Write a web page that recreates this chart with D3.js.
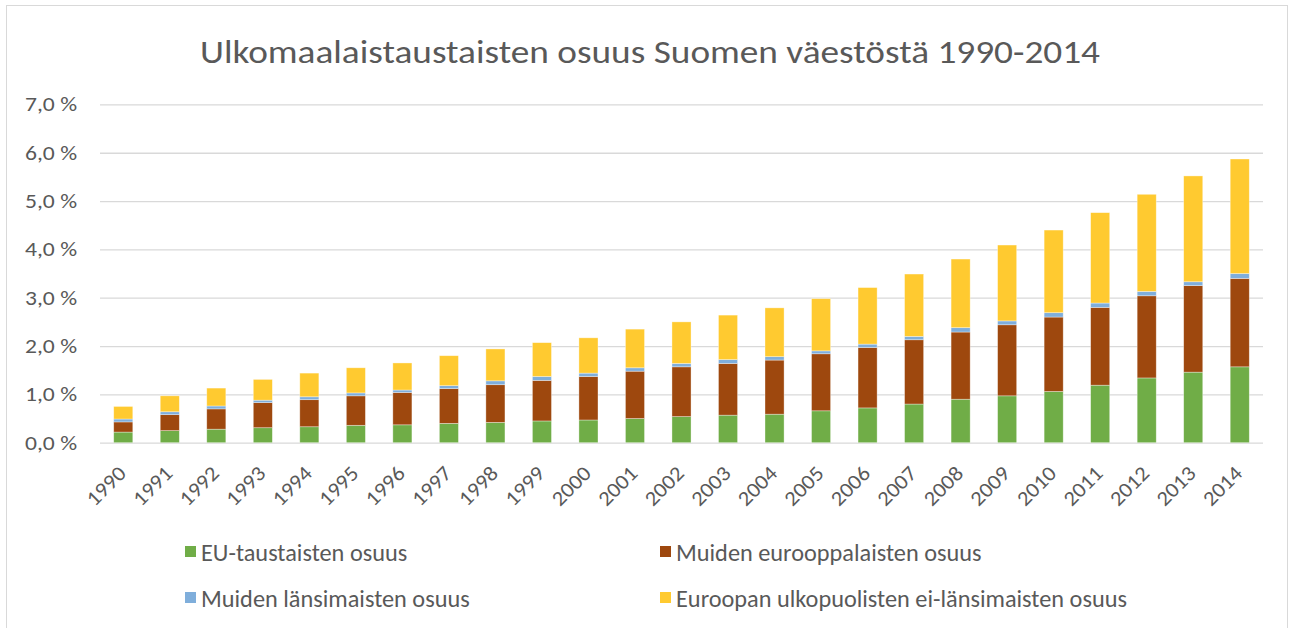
<!DOCTYPE html>
<html>
<head>
<meta charset="utf-8">
<script src="https://cdn.jsdelivr.net/npm/d3@7"></script>
<style>
  body { margin: 0; background: #fff; }
  text { font-family: Carlito, Calibri, Lato, sans-serif; fill: #595959; }
</style>
</head>
<body>
<svg id="chart"></svg>
<script>
// values in percent of population
let years = d3.range(1990, 2015).map(String);
let euShare = [0.22, 0.25, 0.28, 0.31, 0.33, 0.36, 0.37, 0.40, 0.42, 0.45, 0.47, 0.50, 0.54, 0.57, 0.59, 0.66, 0.72, 0.80, 0.90, 0.97, 1.06, 1.19, 1.34, 1.46, 1.57];
let otherEurope = [0.21, 0.33, 0.42, 0.52, 0.56, 0.61, 0.67, 0.72, 0.78, 0.84, 0.90, 0.98, 1.03, 1.07, 1.12, 1.18, 1.25, 1.33, 1.39, 1.47, 1.54, 1.61, 1.70, 1.79, 1.83];
let otherWestern = [0.06, 0.06, 0.06, 0.05, 0.06, 0.06, 0.05, 0.06, 0.08, 0.08, 0.07, 0.07, 0.07, 0.08, 0.07, 0.06, 0.07, 0.07, 0.09, 0.08, 0.09, 0.09, 0.09, 0.08, 0.10];
let nonWestern = [0.26, 0.33, 0.37, 0.43, 0.49, 0.52, 0.56, 0.62, 0.66, 0.70, 0.73, 0.80, 0.86, 0.92, 1.01, 1.08, 1.17, 1.29, 1.42, 1.57, 1.71, 1.87, 2.01, 2.19, 2.37];
let seriesNames = ["EU-taustaisten osuus", "Muiden eurooppalaisten osuus", "Muiden länsimaisten osuus", "Euroopan ulkopuolisten ei-länsimaisten osuus"];
let yTicks = [0, 1, 2, 3, 4, 5, 6, 7];
let title = "Ulkomaalaistaustaisten osuus Suomen väestöstä 1990-2014";

function createChart() {
    let w = 1290, h = 628;
    let left = 100, right = 1263, top = 104.4, bottom = 442.7;
    let colors = ["#70AD47", "#9E480E", "#7FAEDB", "#FFCA30"];

    let svg = d3.select("#chart")
        .attr("width", w)
        .attr("height", h);

    // chart frame
    svg.append("rect")
        .attr("x", 6.5).attr("y", 5.5)
        .attr("width", 1281).attr("height", 640)
        .attr("fill", "none")
        .attr("stroke", "#D9D9D9");

    svg.append("text")
        .attr("x", 650).attr("y", 63)
        .attr("text-anchor", "middle")
        .attr("font-size", 33)
        .attr("textLength", 900)
        .attr("lengthAdjust", "spacingAndGlyphs")
        .text(title);

    let x = d3.scaleBand()
        .domain(years)
        .range([left, right])
        .paddingInner(0.59)
        .paddingOuter(0.295);

    let y = d3.scaleLinear()
        .domain([0, 7])
        .range([bottom, top]);

    let yAxis = svg.append("g")
        .attr("transform", `translate(${left},0)`)
        .call(d3.axisLeft(y)
            .tickValues(yTicks)
            .tickSize(-(right - left))
            .tickPadding(23)
            .tickFormat(d => d.toFixed(1).replace(".", ",") + " %"));
    yAxis.select(".domain").remove();
    yAxis.selectAll(".tick line")
        .attr("stroke", "#D9D9D9")
        .attr("stroke-width", 1.3);
    yAxis.selectAll(".tick text")
        .attr("font-size", 20)
        .attr("fill", "#595959")
        .attr("textLength", 52)
        .attr("lengthAdjust", "spacingAndGlyphs");

    let table = years.map((yr, i) => ({
        year: yr, s0: euShare[i], s1: otherEurope[i], s2: otherWestern[i], s3: nonWestern[i]
    }));
    let stacked = d3.stack().keys(["s0", "s1", "s2", "s3"])(table);

    svg.append("g")
        .selectAll("g")
        .data(stacked)
        .enter().append("g")
          .attr("fill", (d, i) => colors[i])
        .selectAll("rect")
        .data(d => d)
        .enter().append("rect")
          .attr("x", d => x(d.data.year))
          .attr("width", x.bandwidth())
          .attr("y", d => y(d[1]))
          .attr("height", d => y(d[0]) - y(d[1]))
          .attr("stroke", "#fff")
          .attr("stroke-opacity", 0.5)
          .attr("stroke-width", 0.7);

    // year labels, rotated like in the original
    svg.append("g")
        .selectAll("text")
        .data(years)
        .enter().append("text")
          .attr("transform", d => `translate(${x(d) + x.bandwidth() / 2 + 4},${bottom + 32}) rotate(-45)`)
          .attr("text-anchor", "end")
          .attr("font-size", 21)
          .attr("textLength", 46)
          .attr("lengthAdjust", "spacingAndGlyphs")
          .text(d => d);

    // legend, two columns
    let legend = svg.append("g")
        .selectAll("g")
        .data(seriesNames)
        .enter().append("g")
          .attr("transform", (d, i) => `translate(${i % 2 === 0 ? 185 : 660},${i < 2 ? 552 : 598})`);
    legend.append("rect")
        .attr("x", 0).attr("y", -6)
        .attr("width", 11).attr("height", 11)
        .attr("fill", (d, i) => colors[i]);
    legend.append("text")
        .attr("x", 16)
        .attr("dy", "0.35em")
        .attr("font-size", 24.3)
        .text(d => d);
}

window.onload = function() {
    createChart();
};
</script>
</body>
</html>
